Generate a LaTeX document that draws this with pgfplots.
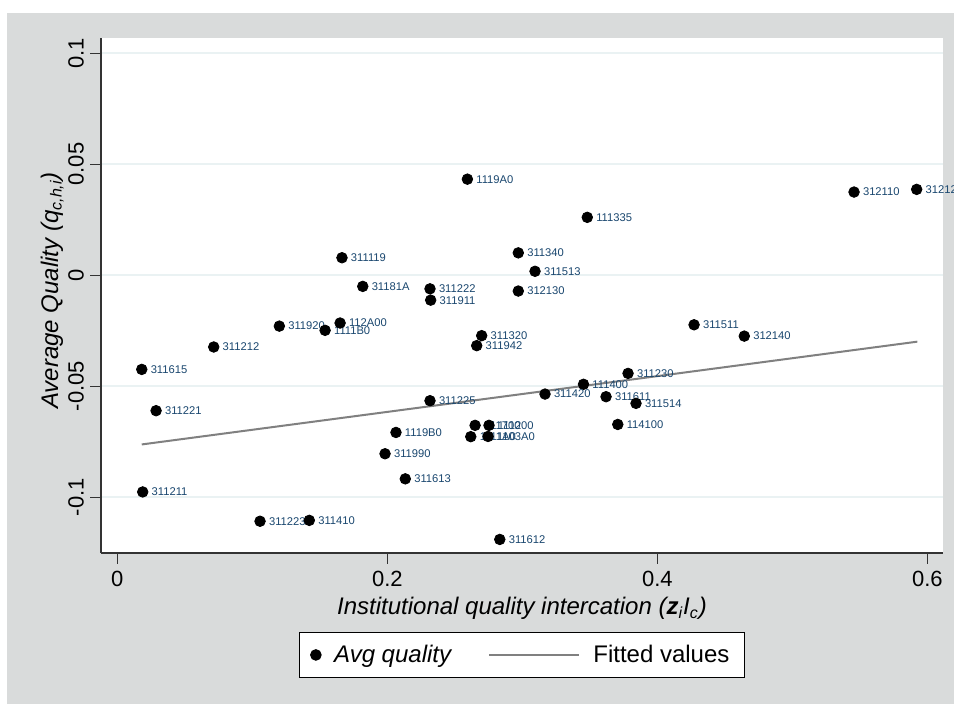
\documentclass[border=0pt]{standalone}
\usepackage{fontspec}
\setmainfont{Liberation Sans}
\usepackage{pgfplots}
\pgfplotsset{compat=1.18}
\definecolor{bgc}{RGB}{217,219,219}
\definecolor{gridc}{RGB}{234,242,243}
\definecolor{lblc}{RGB}{26,71,111}
\definecolor{fitc}{RGB}{128,128,128}
\pgfplotsset{
  dotlegend/.style={legend image code/.code={\draw[mark=*, mark size=2.65pt, black, only marks] plot coordinates {(2.65pt,0pt)};}},
  linelegend/.style={legend image code/.code={\draw[fitc, line width=1pt] (0pt,0pt) -- (45pt,0pt);}},
}
\begin{document}
\begin{tikzpicture}
\useasboundingbox (0,0) rectangle (477pt,352pt);
\fill[white] (0,0) rectangle (477pt,352pt);
\fill[bgc] (3.5pt,0) rectangle (477pt,345.3pt);
\begin{axis}[
  at={(50.5pt,75.5pt)}, anchor=south west,
  scale only axis, width=421pt, height=257.5pt,
  xmin=-0.0121, xmax=0.6116, ymin=-0.1252, ymax=0.1068,
  axis background/.style={fill=white},
  axis x line*=bottom, axis y line*=left,
  axis line style={line width=0.75pt, black!80},
  tick align=outside, major tick length=5.5pt,
  tick style={line width=0.5pt, black!80},
  xtick={0,0.2,0.4,0.6}, xticklabels={0,0.2,0.4,0.6},
  ytick={-0.1,-0.05,0,0.05,0.1}, yticklabels={-0.1,-0.05,0,0.05,0.1},
  /pgf/number format/assume math mode=true,
  ticklabel style={font=\fontsize{11}{13}\selectfont},
  yticklabel style={xshift=0.5pt, rotate=90, anchor=south},
  ymajorgrids, grid style={gridc, line width=1pt},
  xlabel={\textit{Institutional quality intercation (\textbf{z}\textsubscript{i}I\textsubscript{c})}},
  ylabel={\textit{Average Quality (q\textsubscript{c,h,i})}},
  label style={font=\fontsize{12}{14}\selectfont},
  xlabel style={at={(axis description cs:0.5,-0.108)}, anchor=center},
  ylabel style={at={(axis description cs:-0.058,0.51)}, anchor=center},
  legend columns=2,
  legend style={at={(axis description cs:0.5,-0.198)}, anchor=center,
    draw=black, line width=0.5pt, fill=white,
    font=\fontsize{12}{14}\selectfont,
    inner xsep=5.5pt, inner ysep=4pt,
    /tikz/every odd column/.append style={column sep=4.5pt},
    /tikz/every even column/.append style={column sep=16pt}},
  clip=false,
]
\addplot[only marks, mark=*, mark size=2.65pt, black,
  nodes near coords, point meta=explicit symbolic,
  every node near coord/.append style={anchor=west, xshift=4.3pt, yshift=0pt, inner sep=0pt,
    font=\fontsize{5.6}{6.5}\selectfont, text=lblc},
  dotlegend
] table[meta=label] {
x y label
0.0181 -0.0425 311615
0.0287 -0.0611 311221
0.0188 -0.0977 311211
0.0714 -0.0324 311212
0.1200 -0.0230 311920
0.1539 -0.0249 1111B0
0.1650 -0.0216 112A00
0.1664 0.0078 311119
0.1818 -0.0051 31181A
0.2316 -0.0062 311222
0.2321 -0.0113 311911
0.2064 -0.0709 1119B0
0.1983 -0.0805 311990
0.2133 -0.0918 311613
0.1057 -0.1109 311223
0.1422 -0.1105 311410
0.2593 0.0432 1119A0
0.3481 0.0260 111335
0.2970 0.0100 311340
0.3094 0.0017 311513
0.2970 -0.0072 312130
0.2699 -0.0273 311320
0.2662 -0.0318 311942
0.4272 -0.0224 311511
0.3783 -0.0443 311230
0.3453 -0.0492 111400
0.3168 -0.0536 311420
0.3620 -0.0548 311611
0.3842 -0.0578 311514
0.3707 -0.0673 114100
0.2316 -0.0566 311225
0.2650 -0.0677 311700
0.2753 -0.0677 111200
0.2618 -0.0728 1111A0
0.2746 -0.0727 1103A0
0.2833 -0.1191 311612
0.5457 0.0374 312110
0.5921 0.0386 312120
0.4644 -0.0275 312140
};
\addlegendentry{\textit{Avg quality}}
\addplot[fitc, line width=1pt, linelegend] coordinates {(0.0181,-0.0763) (0.5926,-0.0300)};
\addlegendentry{Fitted values}
\end{axis}
\end{tikzpicture}
\end{document}
